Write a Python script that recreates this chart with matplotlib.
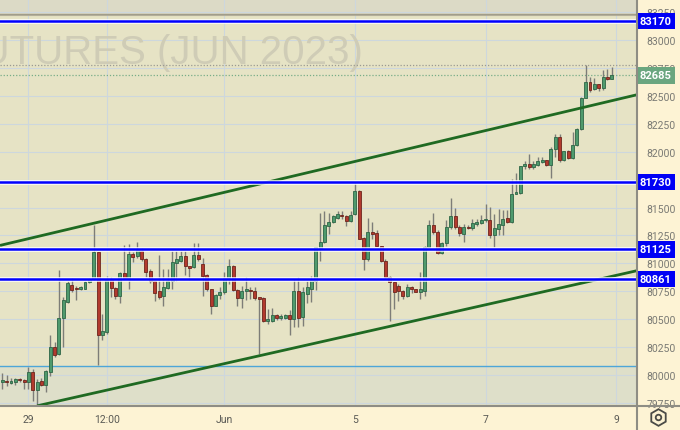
import matplotlib
matplotlib.use("Agg")
import matplotlib.pyplot as plt
from matplotlib.lines import Line2D

# ---------------- data ----------------
opens = [79940, 79950, 79930, 79935, 79965, 79955, 79935, 80025, 79870, 79945,
         79915, 80030, 80250, 80185, 80515, 80657, 80805, 80780, 80770, 80775,
         80830, 80860, 81100, 80355, 80390, 80850, 80780, 80710, 80910, 80865,
         81085, 81065, 81115, 81040, 80935, 80840, 80750, 80705, 80780, 80845,
         81000, 81025, 81070, 80980, 80965, 81075, 80995, 80895, 80770, 80620,
         80720, 80740, 80865, 80980, 80765, 80690, 80755, 80765, 80755, 80690,
         80690, 80480, 80480, 80535, 80510, 80510, 80535, 80505, 80755, 80517,
         80725, 80770, 80845, 81135, 81195, 81335, 81375, 81410, 81430, 81425,
         81380, 81440, 81650, 81225, 81035, 81280, 81270, 81155, 81025, 80875,
         80830, 80795, 80755, 80705, 80790, 80770, 80745, 80755, 81150, 81345,
         81280, 81095, 81180, 81325, 81420, 81325, 81265, 81330, 81315, 81355,
         81360, 81385, 81390, 81255, 81305, 81345, 81405, 81375, 81625, 81630,
         81870, 81890, 81860, 81885, 81910, 81925, 81885, 82025, 82135, 81925,
         82005, 81945, 82060, 82205, 82485, 82620, 82560, 82605, 82570, 82670,
         82650]
highs = [80020, 80000, 79975, 79972, 79975, 79965, 80070, 80055, 79965, 79970,
         80050, 80360, 80300, 80945, 80695, 80845, 80865, 80800, 80795, 80845,
         80870, 81340, 81100, 80550, 80890, 80875, 80785, 80920, 81165, 81175,
         81105, 81190, 81135, 81045, 80950, 80845, 81075, 80950, 80950, 81115,
         81115, 81115, 81115, 80980, 81185, 81185, 81045, 80905, 80775, 80725,
         80785, 80925, 81035, 80985, 80770, 80800, 80875, 80785, 80785, 80690,
         80695, 80590, 80605, 80550, 80550, 80550, 80580, 80860, 80875, 80785,
         80845, 80885, 81145, 81455, 81465, 81455, 81435, 81465, 81470, 81435,
         81465, 81730, 81660, 81235, 81405, 81370, 81295, 81160, 81035, 80885,
         80835, 80815, 80765, 80815, 80800, 80775, 80920, 81155, 81390, 81455,
         81295, 81190, 81390, 81585, 81500, 81345, 81350, 81345, 81395, 81395,
         81435, 81530, 81505, 81445, 81485, 81475, 81480, 81755, 81805, 81875,
         81920, 81980, 81920, 81950, 81950, 81925, 82045, 82160, 82160, 82010,
         82015, 82175, 82215, 82490, 82780, 82665, 82660, 82610, 82730, 82740,
         82755]
lows = [79875, 79905, 79920, 79915, 79940, 79875, 79880, 79770, 79725, 79905,
        79845, 79995, 80160, 80180, 80250, 80650, 80745, 80675, 80765, 80770,
        80825, 80855, 80095, 80310, 80370, 80695, 80680, 80650, 80860, 80770,
        81010, 81045, 81025, 80875, 80825, 80665, 80680, 80615, 80770, 80770,
        80845, 81010, 80895, 80855, 80955, 81025, 80705, 80755, 80545, 80615,
        80680, 80725, 80815, 80755, 80615, 80600, 80675, 80680, 80670, 80190,
        80475, 80460, 80475, 80490, 80490, 80500, 80355, 80435, 80435, 80440,
        80650, 80655, 80765, 81025, 81180, 81265, 81360, 81395, 81395, 81335,
        81375, 81435, 81215, 80945, 81025, 81220, 81155, 81010, 80860, 80485,
        80590, 80665, 80685, 80700, 80735, 80740, 80680, 80710, 81145, 81265,
        81085, 81085, 81160, 81310, 81310, 81245, 81190, 81305, 81300, 81335,
        81355, 81375, 81225, 81145, 81250, 81250, 81365, 81365, 81620, 81620,
        81845, 81845, 81845, 81875, 81895, 81875, 81765, 81950, 81905, 81920,
        81935, 81935, 82055, 82195, 82480, 82530, 82550, 82545, 82550, 82640,
        82650]
closes = [79960, 79935, 79950, 79962, 79955, 79935, 80025, 79870, 79940, 79915,
          80040, 80250, 80180, 80515, 80670, 80825, 80765, 80770, 80785, 80830,
          80860, 81100, 80355, 80395, 80850, 80780, 80705, 80910, 80870, 81085,
          81055, 81120, 81040, 80925, 80840, 80735, 80695, 80790, 80845, 81015,
          81035, 81070, 80975, 80960, 81075, 81040, 80890, 80770, 80620, 80715,
          80745, 80865, 80980, 80765, 80690, 80755, 80765, 80750, 80690, 80685,
          80480, 80505, 80535, 80510, 80525, 80535, 80505, 80755, 80510, 80740,
          80785, 80850, 81145, 81195, 81340, 81375, 81420, 81440, 81425, 81380,
          81435, 81650, 81220, 81035, 81280, 81265, 81160, 81025, 80875, 80830,
          80740, 80750, 80705, 80790, 80770, 80745, 80770, 81145, 81345, 81280,
          81095, 81180, 81325, 81420, 81325, 81275, 81330, 81315, 81360, 81370,
          81390, 81400, 81255, 81315, 81350, 81395, 81375, 81625, 81640, 81875,
          81890, 81860, 81890, 81920, 81925, 81885, 82025, 82135, 81930, 82005,
          81945, 82060, 82205, 82485, 82620, 82550, 82605, 82570, 82670, 82650,
          82685]

x_tick_pos = [6, 24, 51, 81, 111, 141]
x_tick_labels = ["29", "12:00", "Jun", "5", "7", "9"]
y_ticks = [79750, 80000, 80250, 80500, 80750, 81000, 81250, 81500, 81750,
           82000, 82250, 82500, 82750, 83000, 83250]
# 81750 is fully hidden behind the 81730 level tag in the reference
y_tick_labels = ["79750", "80000", "80250", "80500", "80750", "81000", "81250",
                 "81500", "", "82000", "82250", "82500", "82750", "83000", "83250"]

levels = [83170, 81730, 81125, 80861]          # blue horizontal levels
zone_top = 80080                                # light blue line / shaded zone
last_price = 82685
range_high = 82773
upper_trend_x = [-0.53, 145.8]
upper_trend_y = [81161, 82510]
lower_trend_x = [8, 145.8]
lower_trend_y = [79725, 80935]
watermark = "FUTURES (JUN 2023)"

# ---------------- figure ----------------
W, H = 680, 431
fig = plt.figure(figsize=(W / 100, H / 100), dpi=100)
fig.patch.set_facecolor("#fdf3d4")
ax_bottom_px = 24.5
ax_right_px = 637
ax = fig.add_axes([0, ax_bottom_px / H, ax_right_px / W, 1 - ax_bottom_px / H])
ax.set_facecolor("#e6e3c5")
ax.set_xlim(-0.53, 145.8)
ax.set_ylim(79728, 83367)

FONT = ["Roboto", "DejaVu Sans"]

# background bands
ax.axhspan(79728, zone_top, color="#dedfc9", zorder=0.2, lw=0)
ax.axhspan(83235, 83367, color="#dcdac6", zorder=0.2, lw=0)
ax.axhline(83235, color="#a19d8a", lw=1.0, zorder=0.6)
ax.axhline(83220, color="#b3ae9a", lw=0.8, zorder=0.6)

# grid
for v in y_ticks:
    ax.axhline(v, color="#cdd7dd", lw=0.8, zorder=0.5)
for xp in x_tick_pos:
    ax.axvline(xp, color="#cdd7dd", lw=0.8, zorder=0.5)

# watermark
ax.text(363 / ax_right_px, 82794, watermark, transform=ax.get_yaxis_transform(),
        ha="right", va="baseline", fontsize=29, color="#cfccb6",
        family=["Liberation Sans", "DejaVu Sans"], zorder=0.7)

# zone line
ax.axhline(zone_top, color="#4da6d8", lw=1.0, zorder=1)

# dotted lines
ax.axhline(range_high, color="#9b9a92", lw=0.9, ls=(0, (1, 1.5)), zorder=1)
ax.axhline(last_price, color="#78ad88", lw=0.9, ls=(0, (1, 1.5)), zorder=1)

# candles
xs = list(range(len(opens)))
ax.vlines(xs, lows, highs, color="#7d7d78", lw=1.0, zorder=3)
for i in xs:
    o, c = opens[i], closes[i]
    up = c >= o
    bottom = min(o, c)
    h = max(abs(c - o), 12)
    ax.bar(i, h, bottom=bottom, width=0.68,
           color="#4f9a6d" if up else "#b23a2e",
           edgecolor="#2e6646" if up else "#6e251c", lw=0.6, zorder=4)

# trend lines
ax.plot(upper_trend_x, upper_trend_y, color="#1f6a22", lw=2.0, zorder=5,
        solid_capstyle="butt")
ax.plot(lower_trend_x, lower_trend_y, color="#1f6a22", lw=2.0, zorder=5,
        solid_capstyle="butt")

# blue levels
for lv in levels:
    ax.axhline(lv, color="white", lw=3.6, alpha=0.75, zorder=5.5)
    ax.axhline(lv, color="#0000ff", lw=1.8, zorder=6)

# axes styling
for s in ["left", "top", "right", "bottom"]:
    ax.spines[s].set_visible(False)
ax.yaxis.tick_right()
ax.set_yticks(y_ticks)
ax.set_yticklabels(y_tick_labels)
ax.set_xticks(x_tick_pos)
ax.set_xticklabels(x_tick_labels)
ax.tick_params(axis="y", length=0, pad=7, labelsize=7.5, labelcolor="#7a7a74")
ax.tick_params(axis="x", length=0, pad=6, labelsize=7.5, labelcolor="#5a5a55")
for lab in ax.get_yticklabels() + ax.get_xticklabels():
    lab.set_family(FONT)

# level labels on the price axis
yt = ax.get_yaxis_transform()
for lv in levels:
    ax.text(1.004, lv, f"{lv}", transform=yt, ha="left", va="center",
            fontsize=8, fontweight="bold", color="white", family=FONT,
            clip_on=False, zorder=20,
            bbox=dict(boxstyle="square,pad=0.3", fc="#0000f5", ec="none"))
ax.text(1.004, last_price, f"{last_price}", transform=yt, ha="left", va="center",
        fontsize=8, fontweight="bold", color="white", family=FONT,
        clip_on=False, zorder=20,
        bbox=dict(boxstyle="square,pad=0.3", fc="#6aa67f", ec="none"))

# frame lines (extend over axis areas)
fig.add_artist(Line2D([0, 1], [ax_bottom_px / H, ax_bottom_px / H],
                      color="#8e8d84", lw=1.5, transform=fig.transFigure))
fig.add_artist(Line2D([ax_right_px / W, ax_right_px / W], [0, 1],
                      color="#8e8d84", lw=1.5, transform=fig.transFigure))

# settings icon
fig.add_artist(Line2D([658 / W], [1 - 418 / H], marker="h", ms=12, mfc="none",
                      mec="#4a4a46", mew=1.3, transform=fig.transFigure))
fig.add_artist(Line2D([658 / W], [1 - 418 / H], marker="o", ms=4, mfc="none",
                      mec="#4a4a46", mew=1.3, transform=fig.transFigure))

fig.savefig("out.png", dpi=100, facecolor=fig.get_facecolor())
